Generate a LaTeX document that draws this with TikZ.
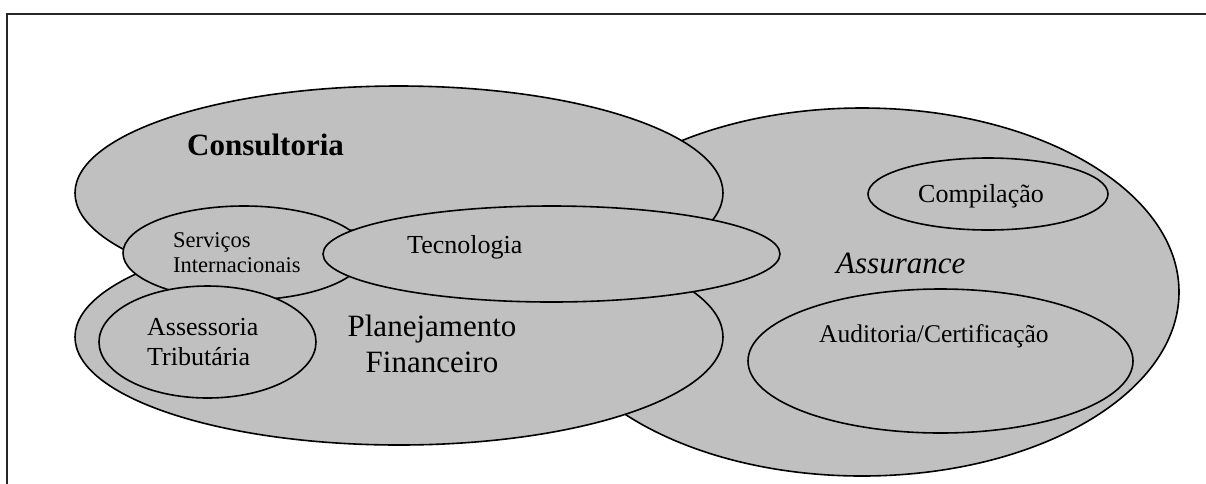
\documentclass[tikz,border=0pt]{standalone}
\usepackage{fontspec}
\setmainfont{Liberation Serif}
\usetikzlibrary{shapes.geometric}
\definecolor{fillgray}{HTML}{C0C0C0}
\tikzset{
  blob/.style={ellipse, draw=black, line width=1.6pt, fill=fillgray, inner sep=0pt},
  lbl/.style={inner sep=0pt, anchor=base west, align=left}
}
\begin{document}
\begin{tikzpicture}[x=1pt,y=-1pt]
\useasboundingbox (0,0) rectangle (1206,483);
\begin{scope}
\clip (0,0) rectangle (1206,483);
\draw[line width=1.8pt, black!85] (7,14) rectangle (1230,520);
\end{scope}
% ellipses
\node[blob, minimum width=634pt, minimum height=368pt] (assurance) at (862,292) {};
\node[blob, minimum width=648pt, minimum height=214pt] (consultoria) at (399,193) {};
\node[blob, minimum width=648pt, minimum height=216pt] (planejamento) at (399,337) {};
\node[blob, minimum width=242pt, minimum height=94pt] (servicos) at (244,253) {};
\node[blob, minimum width=457pt, minimum height=96pt] (tecnologia) at (551.5,254) {};
\node[blob, minimum width=217pt, minimum height=112pt] (assessoria) at (207.5,342) {};
\node[blob, minimum width=240pt, minimum height=72pt] (compilacao) at (988,194) {};
\node[blob, minimum width=385pt, minimum height=144pt] (auditoria) at (940.5,361) {};
% labels (multi-line nodes: base = last line baseline)
\node[lbl, font=\fontsize{31}{36}\selectfont\bfseries] (tconsultoria) at (187,155) {Consultoria};
\node[lbl, font=\fontsize{22.5}{25}\selectfont] (tservicos) at (173,272) {Serviços\\Internacionais};
\node[lbl, font=\fontsize{26}{30}\selectfont] (ttecnologia) at (407,253) {Tecnologia};
\node[lbl, font=\fontsize{26}{30}\selectfont] (tassessoria) at (147,365) {Assessoria\\Tributária};
\node[inner sep=0pt, anchor=base, align=center, font=\fontsize{31}{36}\selectfont] (tplanejamento) at (432,372) {Planejamento\\Financeiro};
\node[lbl, font=\fontsize{31}{36}\selectfont\itshape] (tassurance) at (836,273) {Assurance};
\node[lbl, font=\fontsize{26}{30}\selectfont] (tcompilacao) at (918,202) {Compilação};
\node[lbl, font=\fontsize{25.5}{30}\selectfont] (tauditoria) at (819,342) {Auditoria/Certificação};
\end{tikzpicture}
\end{document}
